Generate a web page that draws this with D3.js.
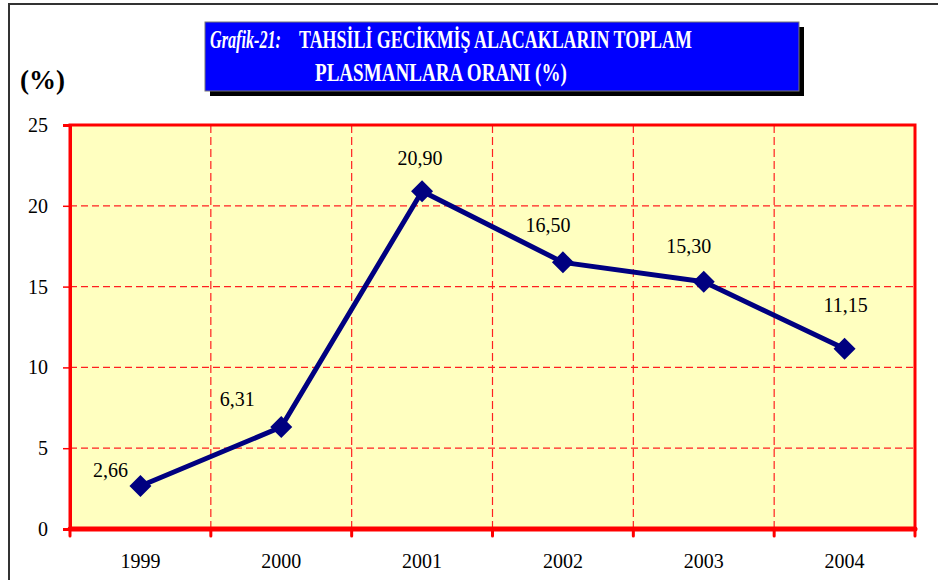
<!DOCTYPE html>
<html>
<head>
<meta charset="utf-8">
<script src="https://cdn.jsdelivr.net/npm/d3@7"></script>
<style>
  html, body { margin: 0; padding: 0; background: #fff; }
  svg { display: block; }
</style>
</head>
<body>
<div id="grafik"></div>
<script>
const width = 938;
const height = 580;

const godine = ["1999", "2000", "2001", "2002", "2003", "2004"];
const vrijednosti = [2.66, 6.31, 20.9, 16.5, 15.3, 11.15];
const oznake = ["2,66", "6,31", "20,90", "16,50", "15,30", "11,15"];
const yTicks = [0, 5, 10, 15, 20, 25];

// pomak oznaka od markera (kao u Excelu)
const pomakOznaka = [
  [-30, -9],
  [-44, -21],
  [-2, -26],
  [-15, -30],
  [-15, -29],
  [1, -37],
];

const plot = { left: 70, right: 915, top: 125, bottom: 529 };
const font = "Liberation Serif, Times New Roman, serif";

const svg = d3
  .select("#grafik")
  .append("svg")
  .attr("width", width)
  .attr("height", height);

// okvir
svg
  .append("path")
  .attr("d", `M9,${height} L9,4 L${width},4`)
  .attr("fill", "none")
  .attr("stroke", "#333")
  .attr("stroke-width", 2);

// naslov
svg
  .append("rect")
  .attr("x", 210)
  .attr("y", 27)
  .attr("width", 594)
  .attr("height", 69)
  .attr("fill", "#000");
svg
  .append("rect")
  .attr("x", 205)
  .attr("y", 22)
  .attr("width", 594)
  .attr("height", 69)
  .attr("fill", "#0000ff")
  .attr("stroke", "#777")
  .attr("stroke-width", 1);

// tekst naslova je uzak i visok, pa ga stisnemo vodoravno
const naslov = [
  { t: "Grafik-21:", x: 210, y: 48, w: 71, italic: true },
  { t: "TAHSİLİ GECİKMİŞ ALACAKLARIN TOPLAM", x: 299, y: 48, w: 393 },
  { t: "PLASMANLARA ORANI (%)", x: 315, y: 81, w: 252 },
];
svg
  .selectAll("text.naslov")
  .data(naslov)
  .join("text")
  .attr("class", "naslov")
  .attr("font-family", font)
  .attr("font-size", 26)
  .attr("font-weight", "bold")
  .attr("font-style", (d) => (d.italic ? "italic" : "normal"))
  .attr("fill", "#fff")
  .text((d) => d.t)
  .attr("transform", function (d) {
    const sx = d.w / this.getComputedTextLength();
    return `translate(${d.x},${d.y}) scale(${sx},1)`;
  });

svg
  .append("text")
  .attr("x", 20)
  .attr("y", 89)
  .attr("font-family", font)
  .attr("font-size", 27)
  .attr("font-weight", "bold")
  .text("(%)");

const x = d3.scaleBand().domain(godine).range([plot.left, plot.right]);
const y = d3.scaleLinear().domain([0, 25]).range([plot.bottom, plot.top]);

// pozadina
svg
  .append("rect")
  .attr("x", plot.left)
  .attr("y", plot.top)
  .attr("width", plot.right - plot.left)
  .attr("height", plot.bottom - plot.top)
  .attr("fill", "#ffffc0");

// mreza
svg
  .selectAll("line.hgrid")
  .data(yTicks.filter((t) => t > 0 && t < 25))
  .join("line")
  .attr("x1", plot.left)
  .attr("x2", plot.right)
  .attr("y1", (d) => y(d))
  .attr("y2", (d) => y(d))
  .attr("stroke", "#ff2020")
  .attr("stroke-width", 1.2)
  .attr("stroke-dasharray", "7,4");

svg
  .selectAll("line.vgrid")
  .data(godine.slice(1))
  .join("line")
  .attr("x1", (d) => x(d))
  .attr("x2", (d) => x(d))
  .attr("y1", plot.top)
  .attr("y2", plot.bottom)
  .attr("stroke", "#ff2020")
  .attr("stroke-width", 1.2)
  .attr("stroke-dasharray", "8,4");

// rub
svg
  .append("rect")
  .attr("x", plot.left)
  .attr("y", plot.top)
  .attr("width", plot.right - plot.left)
  .attr("height", plot.bottom - plot.top)
  .attr("fill", "none")
  .attr("stroke", "#ff0000")
  .attr("stroke-width", 3);

// y os
const yAxis = svg
  .append("g")
  .attr("transform", `translate(${plot.left},0)`)
  .call(d3.axisLeft(y).tickValues(yTicks).tickSize(7).tickPadding(15));
yAxis.select(".domain").attr("stroke", "#ff0000").attr("stroke-width", 3);
yAxis.selectAll(".tick line").attr("stroke", "#ff0000").attr("stroke-width", 1.5);
yAxis
  .selectAll(".tick text")
  .attr("font-family", font)
  .attr("font-size", 20)
  .attr("fill", "#000");

// x os
const granice = godine.map((g) => x(g)).concat([plot.right]);
svg
  .selectAll("line.xtick")
  .data(granice)
  .join("line")
  .attr("x1", (d) => d)
  .attr("x2", (d) => d)
  .attr("y1", plot.bottom)
  .attr("y2", plot.bottom + 7)
  .attr("stroke", "#ff0000")
  .attr("stroke-width", 3)
  .attr("stroke-linecap", "round");
svg
  .append("line")
  .attr("x1", plot.left)
  .attr("x2", plot.right)
  .attr("y1", plot.bottom)
  .attr("y2", plot.bottom)
  .attr("stroke", "#ff0000")
  .attr("stroke-width", 5)
  .attr("stroke-linecap", "round");

svg
  .selectAll("text.godina")
  .data(godine)
  .join("text")
  .attr("x", (d) => x(d) + x.bandwidth() / 2)
  .attr("y", 568)
  .attr("text-anchor", "middle")
  .attr("font-family", font)
  .attr("font-size", 20)
  .text((d) => d);

// linija
const podaci = godine.map((g, i) => ({
  godina: g,
  v: vrijednosti[i],
  oznaka: oznake[i],
  pomak: pomakOznaka[i],
}));
const cx = (d) => x(d.godina) + x.bandwidth() / 2;

svg
  .append("path")
  .datum(podaci)
  .attr("d", d3.line().x(cx).y((d) => y(d.v)))
  .attr("fill", "none")
  .attr("stroke", "#000080")
  .attr("stroke-width", 5)
  .attr("stroke-linejoin", "round");

svg
  .selectAll("path.marker")
  .data(podaci)
  .join("path")
  .attr("class", "marker")
  .attr("transform", (d) => `translate(${cx(d)},${y(d.v)})`)
  .attr("d", "M0,-11 L11,0 L0,11 L-11,0 Z")
  .attr("fill", "#000080");

svg
  .selectAll("text.oznaka")
  .data(podaci)
  .join("text")
  .attr("x", (d) => cx(d) + d.pomak[0])
  .attr("y", (d) => y(d.v) + d.pomak[1])
  .attr("text-anchor", "middle")
  .attr("font-family", font)
  .attr("font-size", 20)
  .text((d) => d.oznaka);
</script>
</body>
</html>
